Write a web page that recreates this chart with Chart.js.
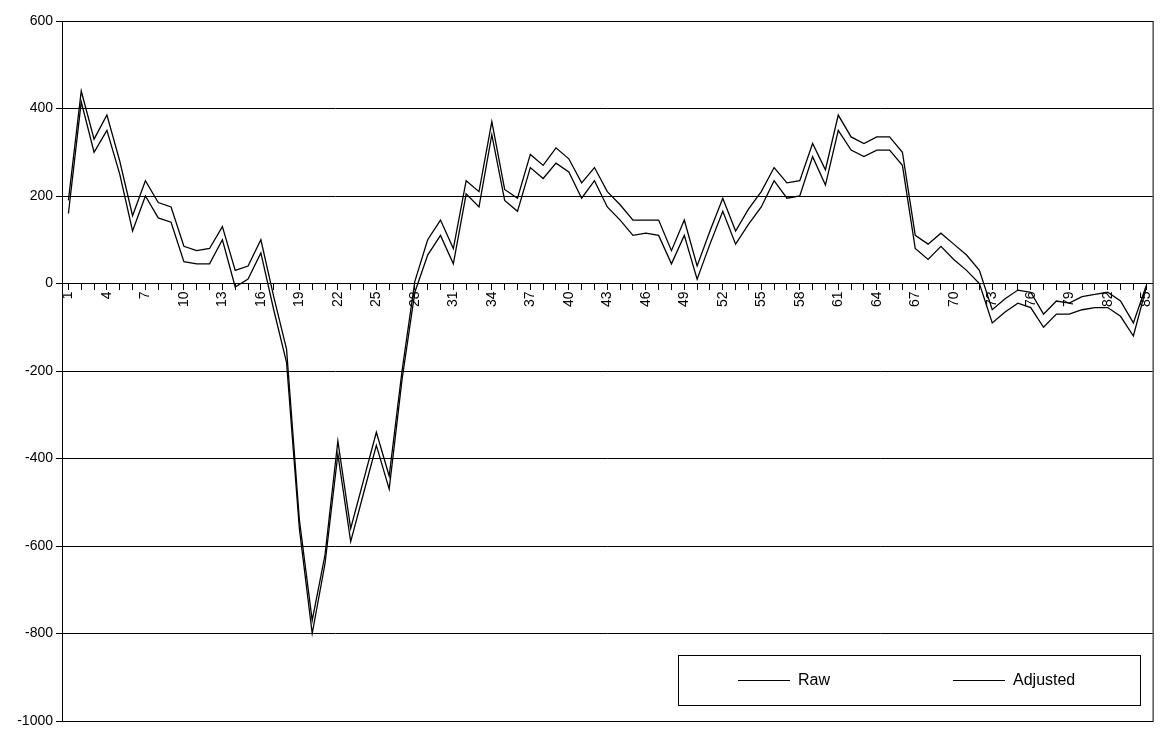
<!DOCTYPE html>
<html lang="en">
<head>
    <meta charset="UTF-8">
    <title>Raw vs Adjusted</title>
    <script src="https://cdn.jsdelivr.net/npm/chart.js"></script>
    <style>
        body { margin: 0; background: #fff; }
        .container { width: 1165px; height: 733px; }
    </style>
</head>
<body>
    <div class="container">
        <canvas id="myChart" width="1165" height="733"></canvas>
    </div>
    <script>
        const labels = Array.from({ length: 85 }, (e, i) => String(i + 1));

        const rawValues = [190, 440, 330, 385, 280, 155, 235, 185, 175, 85,
            75, 80, 130, 30, 40, 100, -30, -150, -540, -770,
            -620, -360, -560, -450, -340, -440, -200, 5, 100, 145,
            80, 235, 210, 370, 215, 195, 295, 270, 310, 285,
            230, 265, 210, 180, 145, 145, 145, 75, 145, 40,
            120, 195, 120, 170, 210, 265, 230, 235, 320, 260,
            385, 335, 320, 335, 335, 300, 110, 90, 115, 90,
            65, 30, -60, -35, -15, -20, -70, -40, -45, -30,
            -25, -20, -40, -90, -5];

        const adjustedValues = [160, 415, 300, 350, 250, 120, 200, 150, 140, 50,
            45, 45, 100, -8, 10, 70, -60, -180, -560, -800,
            -640, -390, -590, -480, -370, -470, -220, -20, 65, 110,
            45, 205, 175, 340, 190, 165, 265, 240, 275, 255,
            195, 235, 175, 145, 110, 115, 110, 45, 110, 10,
            90, 165, 90, 135, 175, 235, 195, 200, 290, 225,
            350, 305, 290, 305, 305, 270, 80, 55, 85, 55,
            30, 0, -90, -65, -45, -55, -100, -70, -70, -60,
            -55, -55, -75, -120, -10];

        const font = { family: 'Liberation Sans, Arial', size: 14 };

        // plot frame + boxed legend, like the spreadsheet original
        const frameLegend = {
            id: 'frameLegend',
            afterDraw(chart) {
                const { ctx, chartArea: a } = chart;
                ctx.save();
                ctx.strokeStyle = '#000';
                ctx.lineWidth = 1;
                ctx.strokeRect(a.left + 0.5, a.top + 0.5, a.right - a.left, a.bottom - a.top);

                const bx = 678, by = 655, bw = 462, bh = 50;
                ctx.fillStyle = '#fff';
                ctx.fillRect(bx, by, bw, bh);
                ctx.strokeRect(bx + 0.5, by + 0.5, bw, bh);
                ctx.font = '16px Liberation Sans, Arial';
                ctx.fillStyle = '#000';
                ctx.textBaseline = 'middle';
                const items = [[738, chart.data.datasets[0].label], [953, chart.data.datasets[1].label]];
                items.forEach(([x, text]) => {
                    ctx.beginPath();
                    ctx.moveTo(x, by + 25.5);
                    ctx.lineTo(x + 52, by + 25.5);
                    ctx.stroke();
                    ctx.fillText(text, x + 60, by + 26);
                });
                ctx.restore();
            }
        };

        const ctx = document.getElementById('myChart').getContext('2d');
        const myChart = new Chart(ctx, {
            type: 'line',
            data: {
                labels: labels,
                datasets: [{
                    label: 'Raw',
                    data: rawValues,
                    borderColor: '#000',
                    borderWidth: 1.3,
                    pointRadius: 0,
                    tension: 0
                }, {
                    label: 'Adjusted',
                    data: adjustedValues,
                    borderColor: '#000',
                    borderWidth: 1.3,
                    pointRadius: 0,
                    tension: 0
                }]
            },
            options: {
                responsive: false,
                animation: false,
                layout: { padding: { left: 4, top: 21, right: 0, bottom: 12 } },
                plugins: {
                    legend: { display: false },
                    tooltip: { enabled: false }
                },
                scales: {
                    x: {
                        position: { y: 0 },
                        offset: true,
                        afterFit: (s) => { s.height = 0; },
                        grid: { drawOnChartArea: false, color: '#000', tickLength: 6, offset: false },
                        border: { color: '#000' },
                        ticks: {
                            autoSkip: false,
                            maxRotation: 90,
                            minRotation: 90,
                            color: '#000',
                            font: font,
                            padding: 2,
                            callback: (v, i) => i % 3 === 0 ? labels[i] : ''
                        }
                    },
                    y: {
                        min: -1000,
                        max: 600,
                        afterFit: (s) => { s.width = 58; },
                        grid: { color: '#000', tickLength: 6 },
                        border: { color: '#000' },
                        ticks: { stepSize: 200, color: '#000', font: font, callback: (v) => String(v) }
                    }
                }
            },
            plugins: [frameLegend]
        });
    </script>
</body>
</html>
